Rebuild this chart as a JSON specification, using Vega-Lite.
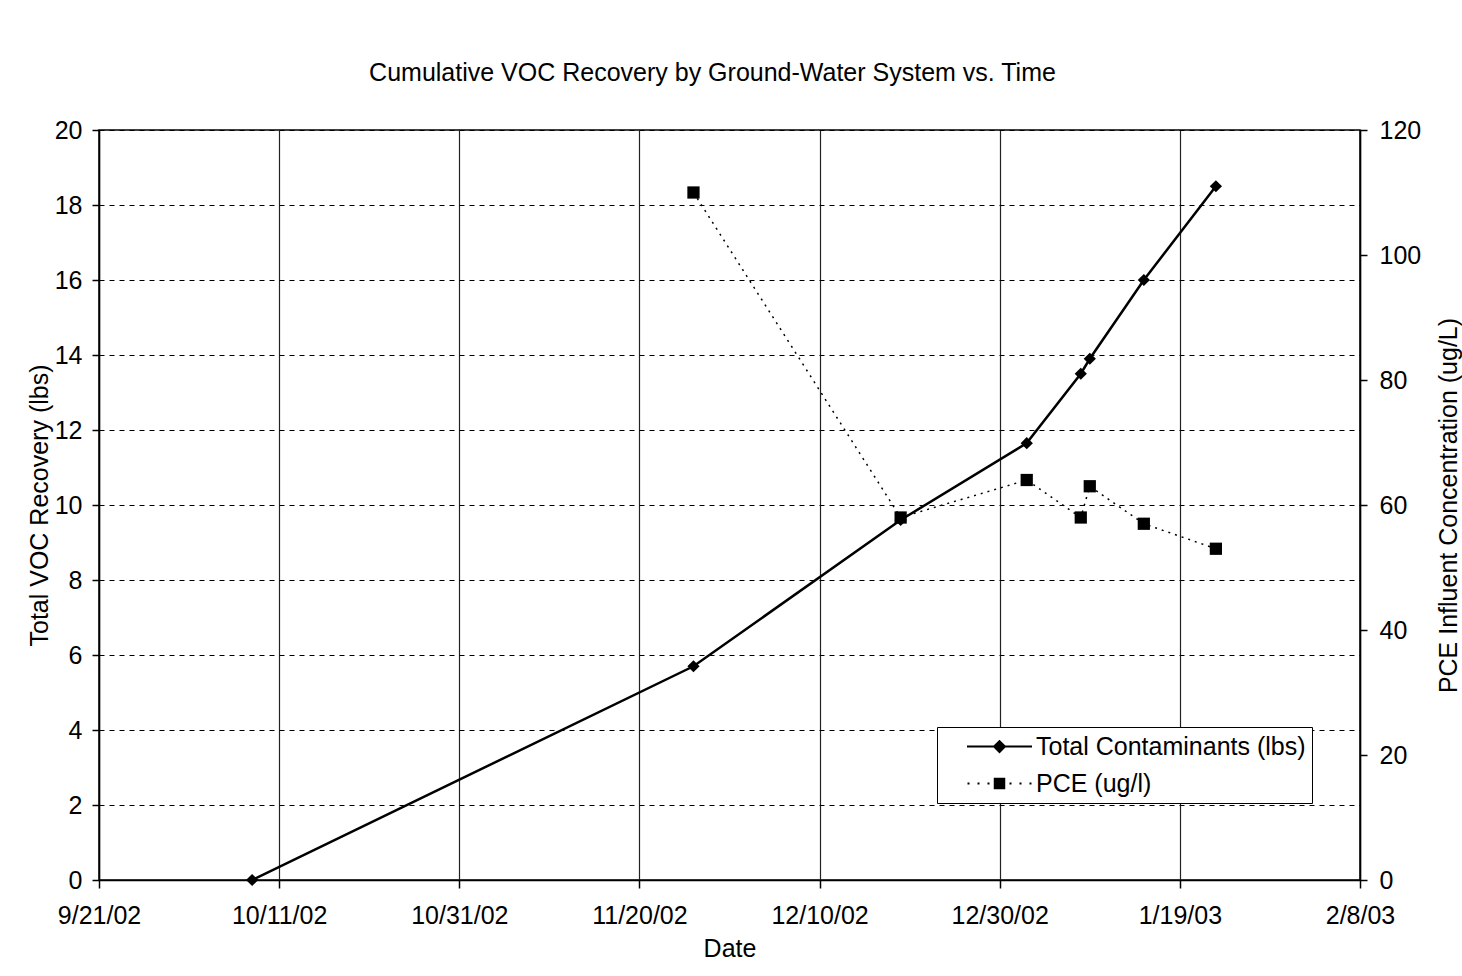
{
  "$schema": "https://vega.github.io/schema/vega-lite/v6.json",
  "autosize": "none",
  "width": 1261,
  "height": 750,
  "padding": {"left": 99, "top": 130, "right": 102, "bottom": 96},
  "background": "white",
  "config": {
    "font": "Liberation Sans",
    "view": {"stroke": "black", "strokeWidth": 1.5},
    "axis": {
      "labelFont": "Liberation Sans",
      "titleFont": "Liberation Sans",
      "labelFontSize": 25,
      "titleFontSize": 25,
      "titleFontWeight": "normal",
      "labelColor": "black",
      "titleColor": "black",
      "domainColor": "black",
      "tickColor": "black",
      "domainWidth": 1.5,
      "tickWidth": 1.5
    }
  },
  "title": {
    "text": "Cumulative VOC Recovery by Ground-Water System vs. Time",
    "font": "Liberation Sans",
    "fontSize": 25,
    "fontWeight": "normal",
    "color": "black",
    "anchor": "middle",
    "dx": -17,
    "offset": 32
  },
  "data": {
    "values": [
      {"date": "2002/10/08", "series": "Total Contaminants (lbs)", "value": 0},
      {"date": "2002/11/26", "series": "Total Contaminants (lbs)", "value": 5.7},
      {"date": "2002/12/19", "series": "Total Contaminants (lbs)", "value": 9.6},
      {"date": "2003/01/02", "series": "Total Contaminants (lbs)", "value": 11.65},
      {"date": "2003/01/08", "series": "Total Contaminants (lbs)", "value": 13.5},
      {"date": "2003/01/09", "series": "Total Contaminants (lbs)", "value": 13.9},
      {"date": "2003/01/15", "series": "Total Contaminants (lbs)", "value": 16.0},
      {"date": "2003/01/23", "series": "Total Contaminants (lbs)", "value": 18.5},
      {"date": "2002/11/26", "series": "PCE (ug/l)", "value": 110},
      {"date": "2002/12/19", "series": "PCE (ug/l)", "value": 58},
      {"date": "2003/01/02", "series": "PCE (ug/l)", "value": 64},
      {"date": "2003/01/08", "series": "PCE (ug/l)", "value": 58},
      {"date": "2003/01/09", "series": "PCE (ug/l)", "value": 63},
      {"date": "2003/01/15", "series": "PCE (ug/l)", "value": 57},
      {"date": "2003/01/23", "series": "PCE (ug/l)", "value": 53}
    ]
  },
  "encoding": {
    "x": {
      "field": "date",
      "type": "temporal",
      "title": "Date",
      "scale": {
        "domain": [
          {"year": 2002, "month": 9, "date": 21},
          {"year": 2003, "month": 2, "date": 8}
        ]
      },
      "axis": {
        "values": [
          {"year": 2002, "month": 9, "date": 21},
          {"year": 2002, "month": 10, "date": 11},
          {"year": 2002, "month": 10, "date": 31},
          {"year": 2002, "month": 11, "date": 20},
          {"year": 2002, "month": 12, "date": 10},
          {"year": 2002, "month": 12, "date": 30},
          {"year": 2003, "month": 1, "date": 19},
          {"year": 2003, "month": 2, "date": 8}
        ],
        "format": "%-m/%-d/%y",
        "grid": true,
        "gridColor": "#222222",
        "gridWidth": 1.2,
        "gridOpacity": 1,
        "tickSize": 8,
        "labelPadding": 15,
        "titlePadding": 8,
        "labelFlush": false
      }
    }
  },
  "layer": [
    {
      "transform": [{"filter": "datum.series === 'Total Contaminants (lbs)'"}],
      "encoding": {
        "y": {
          "field": "value",
          "type": "quantitative",
          "title": "Total VOC Recovery (lbs)",
          "scale": {"domain": [0, 20], "nice": false},
          "axis": {
            "orient": "left",
            "values": [0, 2, 4, 6, 8, 10, 12, 14, 16, 18, 20],
            "grid": true,
            "gridDash": [5, 5],
            "gridColor": "black",
            "gridWidth": 1,
            "gridOpacity": 1,
            "tickSize": 7,
            "labelPadding": 10,
            "titlePadding": 2
          }
        }
      },
      "layer": [
        {
          "mark": {"type": "line", "color": "black", "strokeWidth": 2.5},
          "encoding": {}
        },
        {
          "mark": {"type": "point", "filled": true, "color": "black", "opacity": 1, "size": 150, "shape": "diamond"},
          "encoding": {}
        },
        {
          "transform": [{"filter": "false"}],
          "mark": {"type": "point", "filled": true, "color": "black", "opacity": 1, "size": 625},
          "encoding": {
            "shape": {
              "field": "series",
              "type": "nominal",
              "scale": {
                "domain": ["Total Contaminants (lbs)", "PCE (ug/l)"],
                "range": [
                  "M-2.6,-0.08H2.6V0.08H-2.6ZM0,-0.55L0.55,0L0,0.55L-0.55,0Z",
                  "M-2.56,-0.08h0.16v0.16h-0.16ZM-1.76,-0.08h0.16v0.16h-0.16ZM-0.96,-0.08h0.16v0.16h-0.16ZM0.8,-0.08h0.16v0.16h-0.16ZM1.6,-0.08h0.16v0.16h-0.16ZM2.4,-0.08h0.16v0.16h-0.16ZM-0.46,-0.46H0.46V0.46H-0.46Z"
                ]
              },
              "legend": {
                "orient": "none",
                "legendX": 838,
                "legendY": 597,
                "title": null,
                "fillColor": "white",
                "strokeColor": "black",
                "padding": 6,
                "labelFont": "Liberation Sans",
                "labelFontSize": 25,
                "labelColor": "black",
                "symbolOffset": 43,
                "labelOffset": 23,
                "labelLimit": 500,
                "symbolSize": 625,
                "rowPadding": 10,
                "symbolFillColor": "black",
                "symbolOpacity": 1
              }
            }
          }
        }
      ]
    },
    {
      "transform": [{"filter": "datum.series === 'PCE (ug/l)'"}],
      "encoding": {
        "y": {
          "field": "value",
          "type": "quantitative",
          "title": "PCE Influent Concentration (ug/L)",
          "scale": {"domain": [0, 120], "nice": false},
          "axis": {
            "orient": "right",
            "values": [0, 20, 40, 60, 80, 100, 120],
            "grid": false,
            "tickSize": 7,
            "labelPadding": 12,
            "titlePadding": 41,
            "titleAngle": 270
          }
        }
      },
      "layer": [
        {
          "mark": {"type": "line", "color": "black", "strokeWidth": 1.5, "strokeDash": [2, 5]},
          "encoding": {}
        },
        {
          "mark": {"type": "point", "filled": true, "color": "black", "opacity": 1, "size": 150, "shape": "square"},
          "encoding": {}
        }
      ]
    }
  ],
  "resolve": {"scale": {"y": "independent"}}
}
